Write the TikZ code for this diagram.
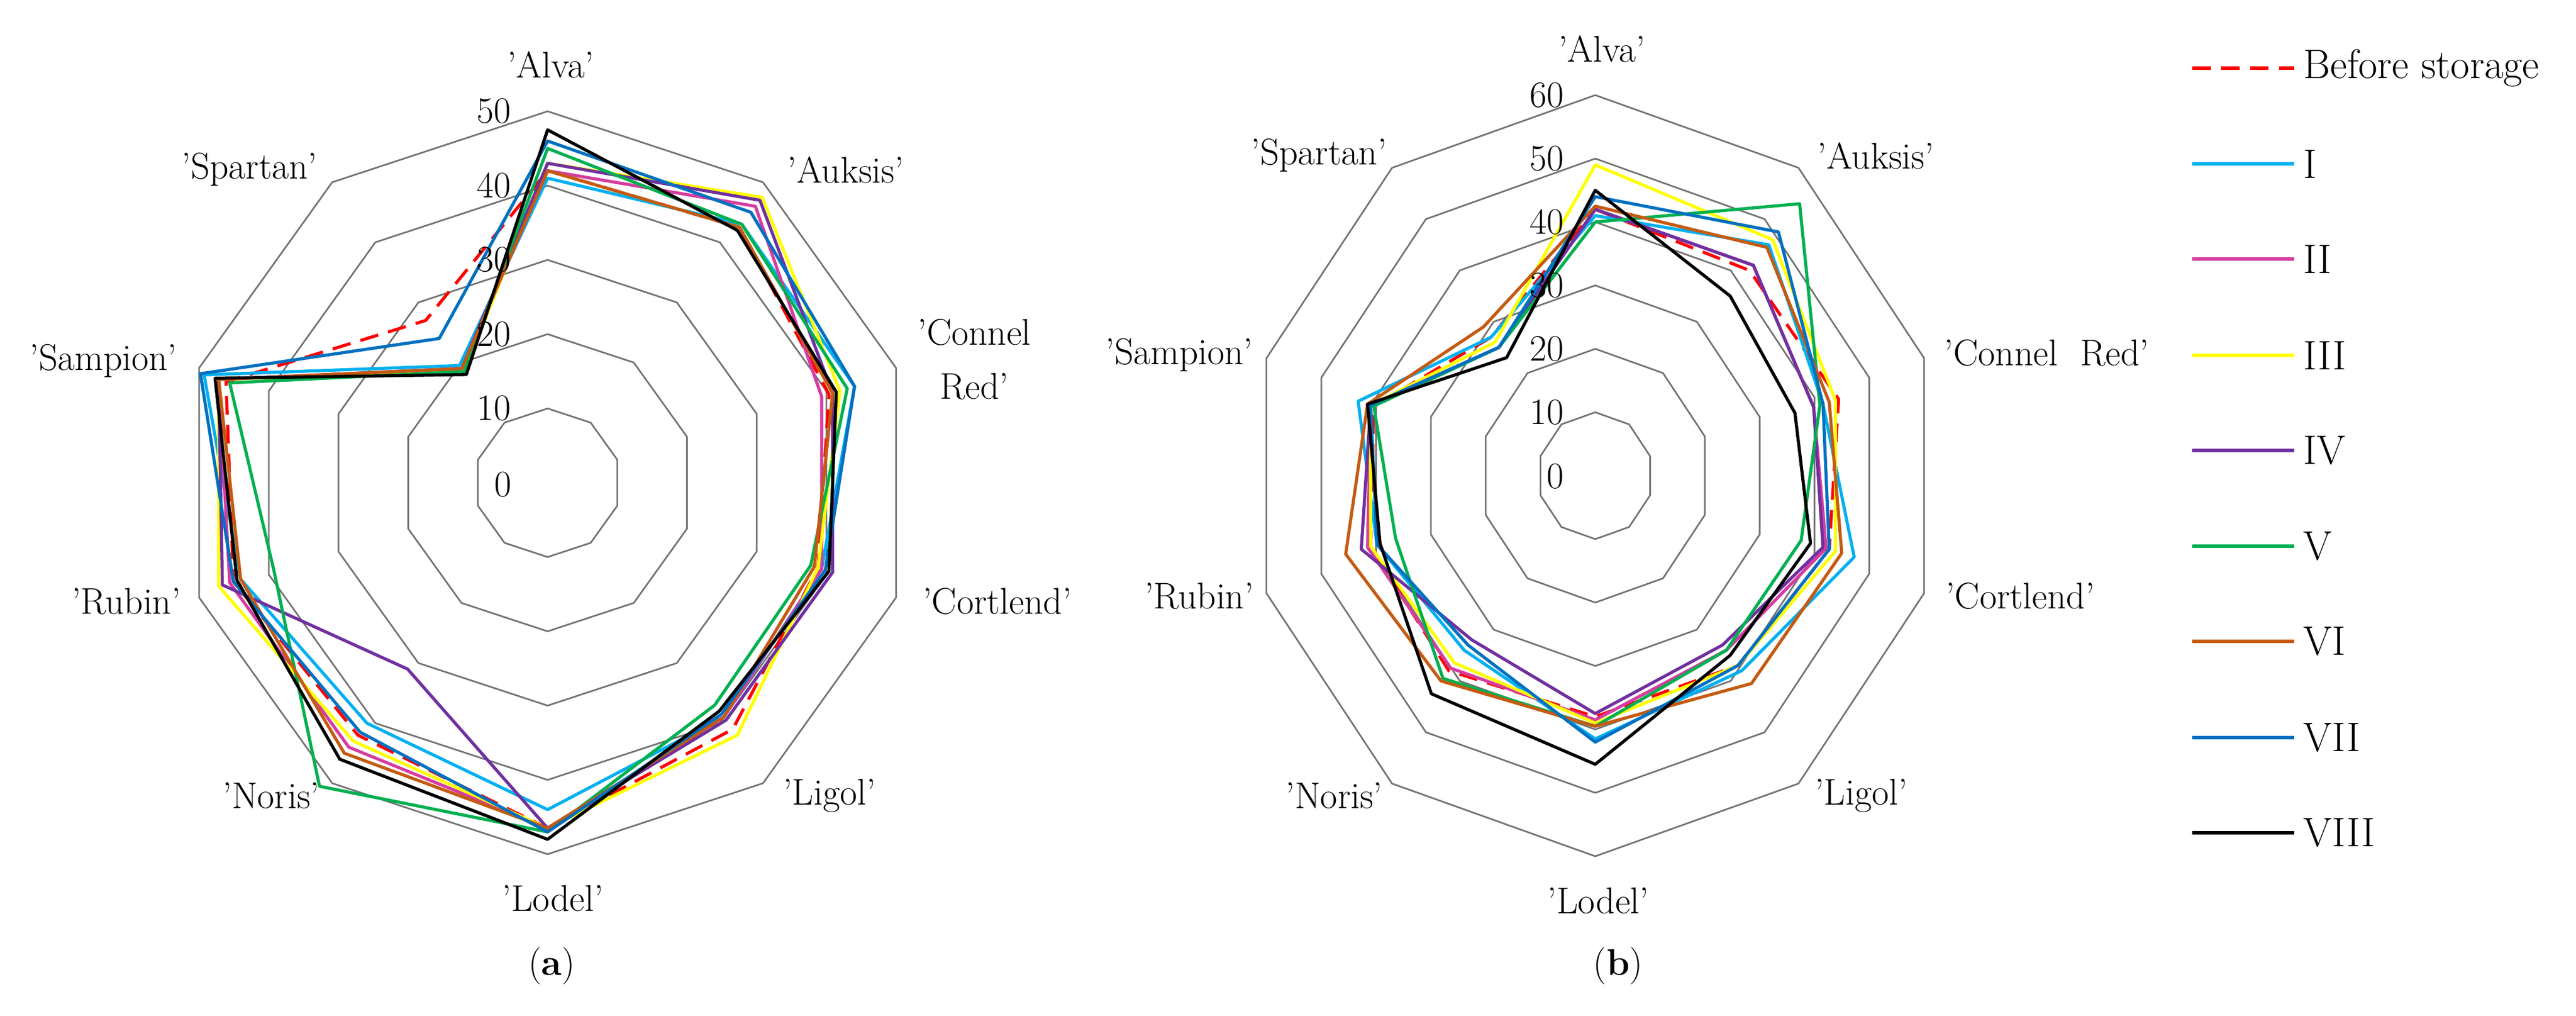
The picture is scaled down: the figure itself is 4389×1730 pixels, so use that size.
\documentclass[tikz,border=0pt]{standalone}
\begin{document}
\begin{tikzpicture}[x=0.01cm,y=0.01cm,
  ring/.style={draw=black!55,line width=0.8pt,line join=miter},
  ser/.style={line width=1.5pt,line join=round},
  lab/.style={font=\fontsize{18}{20}\selectfont,inner sep=0pt},
  num/.style={font=\fontsize{18}{20}\selectfont,inner sep=0pt,anchor=east},
  leg/.style={font=\fontsize{20}{22}\selectfont,inner sep=0pt,anchor=west}]
\definecolor{cI}{HTML}{00B0F0}\definecolor{cII}{HTML}{D63CA0}
\definecolor{cIII}{HTML}{FFFF00}\definecolor{cIV}{HTML}{7030A0}
\definecolor{cV}{HTML}{00B050}\definecolor{cVI}{HTML}{C55A11}
\definecolor{cVII}{HTML}{0070C0}\definecolor{cRed}{HTML}{FF0000}
\tikzset{
 sBefore/.style={ser,draw=cRed,dash pattern=on 9pt off 5pt},
 sI/.style={ser,draw=cI},sII/.style={ser,draw=cII},sIII/.style={ser,draw=cIII},
 sIV/.style={ser,draw=cIV},sV/.style={ser,draw=cV},sVI/.style={ser,draw=cVI},
 sVII/.style={ser,draw=cVII},sVIII/.style={ser,draw=black}}
\newcommand\rad[3]{\draw[#1] (90:{#2*\kk}) \foreach \v [count=\i] in {#3} { -- ({90-36*\i}:{\v*\kk}) } -- cycle;}
\newcommand\ringdraw[1]{\draw[ring] (90:#1) \foreach \i in {1,...,9} { -- ({90-36*\i}:#1) } -- cycle;}
\useasboundingbox (0,0) rectangle (4389,-1730);
% ---------- chart (a)
\begin{scope}[shift={(933,-822)}]
\def\kk{12.65}
\begin{scope}[xscale=0.987]
\foreach \r in {1,...,5} {\ringdraw{\r*126.5}}
\end{scope}
\begin{scope}[xscale=1.035]
\rad{sBefore}{42}{42.5,38.5,37,41,46.5,42,43,44,27}
\rad{sI}{41}{43,42,37.5,39,44,40,42,47,19.5}
\rad{sII}{42}{46,37.5,37.5,39,46.5,44,43.5,45,19}
\rad{sIII}{43}{47.5,40,37,42,46.5,43,45,45,18.5}
\rad{sIV}{43}{47,39,39,39.5,46.5,31,44.5,45,19}
\rad{sV}{45}{43,41,36,37,47,50.5,37.5,43.5,18.5}
\rad{sVI}{42}{42.5,39,36.5,39,46.5,45,42,45,19}
\rad{sVII}{46}{45,42,38,38.5,47,41.5,43,47.5,24}
\rad{sVIII}{47.5}{42,39.5,38.5,38,48,46,42.5,45.5,18}
\end{scope}
\foreach \n in {1,...,5} {\node[num] (na\n) at (-62,{\n*126.5}) {\n0};}
\end{scope}
\node[num] (na0) at (872,-825) {0};
\node[lab] (aAlva) at (938,-110) {'Alva'};
\node[lab] (aAuk) at (1441,-289) {'Auksis'};
\node[lab,align=center] (aCon) at (1660,-612) {'Connel\\[6pt]Red'};
\node[lab] (aCor) at (1699,-1024) {'Cortlend'};
\node[lab] (aLig) at (1413,-1355) {'Ligol'};
\node[lab] (aLod) at (942,-1530) {'Lodel'};
\node[lab] (aNor) at (462,-1355) {'Noris'};
\node[lab] (aRub) at (215,-1024) {'Rubin'};
\node[lab] (aSam) at (176,-615) {'Sampion'};
\node[lab] (aSpa) at (425,-289) {'Spartan'};
\node[lab] (capa) at (940,-1645) {(\textbf{a})};
% ---------- chart (b)
\begin{scope}[shift={(2718,-810)}]
\def\kk{10.8}
\begin{scope}[xscale=0.909]
\foreach \r in {1,...,6} {\ringdraw{\r*108}}
\end{scope}
\begin{scope}[xscale=1.035]
\rad{sBefore}{42}{40,39,37.5,37,38,38,36,35.5,27}
\rad{sI}{41}{45,36.5,41.5,38,41.5,34,35,38,27}
\rad{sII}{42}{41,35,37,34,38.5,37.5,36.5,36,25}
\rad{sIII}{49}{46,38.5,38.5,37,39,36.5,36,36,26}
\rad{sIV}{42}{41,35,36.5,33,37.5,32,37.5,36,25}
\rad{sV}{40}{53,36,33,34,39.5,39.5,32,35.5,25}
\rad{sVI}{42.5}{44.5,37.5,39.5,40.5,39.5,40,40,36.5,29}
\rad{sVII}{44}{47.5,36.5,37.5,37,42,33,35,36,25}
\rad{sVIII}{45}{35,32,34.5,35,45.5,42.5,34.5,36.5,23}
\end{scope}
\foreach \n in {1,...,6} {\node[num] (nb\n) at (-53,{\n*108}) {\n0};}
\end{scope}
\node[num] (nb0) at (2665,-811) {0};
\node[lab] (bAlva) at (2729,-83) {'Alva'};
\node[lab] (bAuk) at (3196,-265) {'Auksis'};
\node[lab] (bCon) at (3487,-601) {'Connel\ \ Red'};
\node[lab] (bCor) at (3442,-1015) {'Cortlend'};
\node[lab] (bLig) at (3171,-1355) {'Ligol'};
\node[lab] (bLod) at (2723,-1534) {'Lodel'};
\node[lab] (bNor) at (2273,-1355) {'Noris'};
\node[lab] (bRub) at (2043,-1015) {'Rubin'};
\node[lab] (bSam) at (2009,-605) {'Sampion'};
\node[lab] (bSpa) at (2247,-265) {'Spartan'};
\node[lab] (capb) at (2757,-1645) {(\textbf{b})};
% ---------- legend
\foreach \s/\t/\y [count=\j] in {sBefore/Before storage/116,sI/I/279,sII/II/441,sIII/III/605,sIV/IV/767,sV/V/930,sVI/VI/1092,sVII/VII/1256,sVIII/VIII/1418} {
  \coordinate (ls\j) at (3735,-\y);
  \node[leg] (lt\j) at (3924,-\y) {\t};
  \draw[\s] (ls\j) -- (lt\j.west -| 3909,0);
}
\end{tikzpicture}
\end{document}
